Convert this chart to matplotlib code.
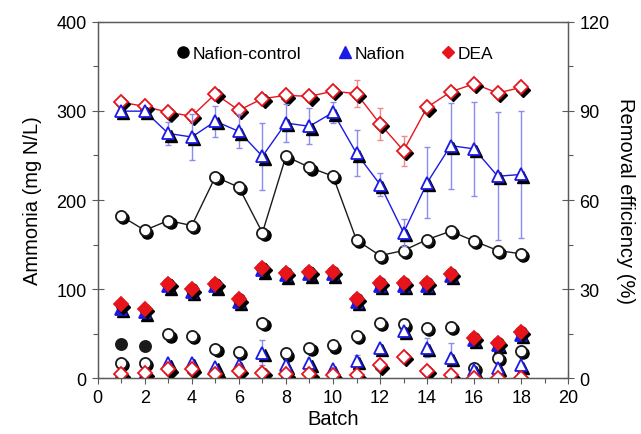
import numpy as np
import matplotlib
matplotlib.use("Agg")
import matplotlib.pyplot as plt
from matplotlib.lines import Line2D
from matplotlib.ticker import MultipleLocator
from matplotlib.transforms import offset_copy

plt.rcParams['font.family'] = ['Liberation Sans', 'DejaVu Sans']

batch = np.arange(1, 19)

# removal efficiency (%), right axis
ctrl_eff = [54.6, 49.8, 53.1, 51.4, 67.8, 64.3, 49.0, 74.7, 71.0, 68.0, 46.5, 41.3, 43.0, 46.7, 49.5, 46.2, 43.0, 41.9]
nafion_eff = [89.9, 89.9, 82.4, 81.2, 86.5, 83.1, 74.7, 85.9, 84.8, 89.5, 75.7, 65.2, 49.0, 65.8, 78.3, 77.2, 68.0, 68.6]
nafion_eff_err = [1, 1, 4, 7.8, 5.2, 5.7, 11.2, 6.4, 6.1, 3.6, 7.7, 4, 4.5, 12, 14.5, 15.8, 21.6, 21.3]
dea_eff = [92.9, 91.5, 89.5, 88.2, 95.7, 90.2, 94.1, 95.2, 94.9, 96.6, 95.8, 85.6, 76.6, 91.2, 96.4, 99.1, 96.0, 97.9]
dea_eff_err = [1, 1, 1, 2.3, 1, 1, 1, 1, 1, 1.5, 4.5, 5.5, 5, 1, 1, 1, 1, 1]

# ammonia (mg N/L), left axis - influent (filled) and effluent (open)
ctrl_in = [38.9, 36.2, 106, 99.7, 106, 88.5, 124, 118.4, 119.5, 119.5, 89, 107.2, 107.2, 107.2, 117.3, 45.6, 40, 51.9]
nafion_in = [78, 74, 103, 97, 103, 85.5, 121, 115.5, 116.5, 116.5, 86, 104, 104, 104, 114.5, 43, 37.5, 49]
dea_in = [82.9, 78.0, 106, 99.7, 106, 88.5, 124, 118.4, 119.5, 119.5, 89, 107.2, 107.2, 107.2, 117.3, 45.6, 40, 51.9]

ctrl_out = [17.6, 17.6, 49.3, 47.4, 33.3, 29.9, 62.4, 28, 34.4, 37, 47.4, 62.4, 60.5, 56.8, 57.9, 12, 23.2, 30.6]
nafion_out = [5, 5, 16.8, 17.6, 13.1, 14.6, 28.8, 14.6, 16.8, 10.1, 19.4, 34.4, 53, 34.4, 23.2, 9.3, 12, 14.6]
nafion_out_err = [0, 0, 0, 0, 0, 0, 14, 0, 0, 0, 6.5, 0, 4, 11, 16, 0, 0, 0]
dea_out = [4.5, 5.6, 10.1, 10.1, 4.5, 8.2, 6.4, 4.5, 4.5, 3.4, 3.4, 14.6, 24.3, 8.2, 3.4, 0.8, 0.8, 0.8]

red = '#e8141c'
blue = '#1a1ae6'
black = '#1a1a1a'
spine_col = '#5a5a5a'

fig, ax = plt.subplots(figsize=(6.41, 4.35), dpi=100)
fig.subplots_adjust(left=0.1524, right=0.8866, bottom=0.128, top=0.9478)
ax2 = ax.twinx()


def draw(axis, y, marker, color, filled, ms, z, line=False, err=None, ecolor=None, shade=True):
    # drop shadow under each marker, like the original
    shadow = offset_copy(axis.transData, fig=fig, x=1.6, y=-1.6, units='points')
    if err is not None:
        axis.errorbar(batch, y, yerr=err, fmt='none', ecolor=ecolor, elinewidth=1,
                      capsize=2.5, capthick=1, zorder=z - 0.6)
    if line:
        axis.plot(batch, y, color=color, lw=1, zorder=z - 0.5)
    if shade:
        axis.plot(batch, y, ls='none', marker=marker, ms=ms, mfc='black', mec='black',
                  transform=shadow, zorder=z)
    axis.plot(batch, y, ls='none', marker=marker, ms=ms,
              mfc=color if filled else 'white', mec=color, mew=1.3, zorder=z + 0.1)


# ammonia points
draw(ax, ctrl_in, 'o', black, True, 8, 3, shade=False)
draw(ax, nafion_in, '^', blue, True, 8.5, 4)
draw(ax, dea_in, 'D', red, True, 7, 5)
draw(ax, ctrl_out, 'o', black, False, 8, 6)
draw(ax, nafion_out, '^', blue, False, 8.5, 7, err=nafion_out_err, ecolor='#8c8cf0')
draw(ax, dea_out, 'D', red, False, 7, 8)

# removal efficiency lines
draw(ax2, ctrl_eff, 'o', black, False, 8, 3, line=True)
draw(ax2, dea_eff, 'D', red, False, 7, 5, line=True, err=dea_eff_err, ecolor='#f08a8a')
draw(ax2, nafion_eff, '^', blue, False, 8.5, 7, line=True, err=nafion_eff_err, ecolor='#8c8cf0')

ax.set_xlim(0, 20)
ax.set_ylim(0, 400)
ax2.set_ylim(0, 120)
ax.xaxis.set_major_locator(MultipleLocator(2))
ax.xaxis.set_minor_locator(MultipleLocator(1))
ax.yaxis.set_major_locator(MultipleLocator(100))
ax.yaxis.set_minor_locator(MultipleLocator(50))
ax2.yaxis.set_major_locator(MultipleLocator(30))
ax2.yaxis.set_minor_locator(MultipleLocator(15))

for a in (ax, ax2):
    a.tick_params(which='major', direction='inout', length=8, width=0.8, color=spine_col,
                  labelsize=13, pad=4)
    a.tick_params(which='minor', direction='out', length=3.5, width=0.8, color=spine_col)
    for s in a.spines.values():
        s.set_color(spine_col)
        s.set_linewidth(0.9)

ax.set_xlabel('Batch', fontsize=14.5, labelpad=2)
ax.set_ylabel('Ammonia (mg N/L)', fontsize=14.5, labelpad=10)
ax2.set_ylabel('Removal efficiency (%)', fontsize=14.5, rotation=270, labelpad=18)

handles = [
    Line2D([], [], ls='none', marker='o', ms=8, color='black'),
    Line2D([], [], ls='none', marker='^', ms=8, color=blue),
    Line2D([], [], ls='none', marker='D', ms=6, color=red),
]
leg = ax2.legend(handles, ['Nafion-control', 'Nafion', 'DEA'], loc='center',
                 bbox_to_anchor=(0.506, 0.912), ncol=3, frameon=False, fontsize=12.5,
                 handlelength=0.6, handletextpad=0.25, columnspacing=2.2)

plt.savefig('out.png', dpi=100)
